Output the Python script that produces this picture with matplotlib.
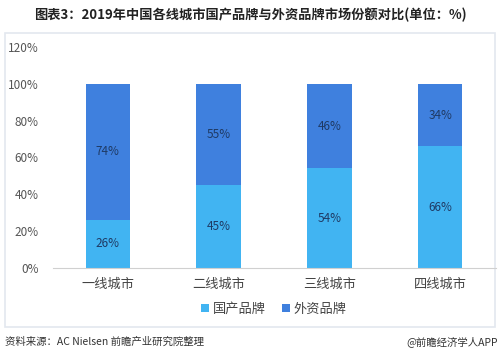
# 2019年各线城市国产品牌与外资品牌市场份额对比
import matplotlib.pyplot as plt
from matplotlib.patches import Rectangle

plt.rcParams['font.family'] = ['Noto Sans CJK SC', 'DejaVu Sans']

# 数据
cities = ['一线城市', '二线城市', '三线城市', '四线城市']
domestic = [26, 45, 54, 66]
foreign = [74, 55, 46, 34]
yticks = [0, 20, 40, 60, 80, 100, 120]

c_dom = '#41B4F2'
c_for = '#3F80DE'

fig = plt.figure(figsize=(5, 3.62), dpi=100)

# 外框
fig.patches.append(Rectangle((0.01, 0.097), 0.98, 0.812, transform=fig.transFigure,
                             facecolor='white', edgecolor='#E3E8EF', linewidth=1.2,
                             zorder=-1))

ax = fig.add_axes([0.105, 0.26, 0.886, 0.6105])
x = range(len(cities))
ax.bar(x, domestic, width=0.4, color=c_dom, label='国产品牌')
ax.bar(x, foreign, width=0.4, bottom=domestic, color=c_for, label='外资品牌')

for i in x:
    ax.text(i, domestic[i] / 2, f'{domestic[i]}%', ha='center', va='center',
            fontsize=8.5, color='#1F3A64')
    ax.text(i, domestic[i] + foreign[i] / 2, f'{foreign[i]}%', ha='center', va='center',
            fontsize=8.5, color='#1F3A64')

ax.set_xlim(-0.5, 3.5)
ax.set_ylim(0, 120)
ax.set_yticks(yticks)
ax.set_yticklabels([f'{v}%' for v in yticks], fontsize=8.5, color='#555555')
ax.set_xticks(list(x))
ax.set_xticklabels(cities, fontsize=9.5, color='#444444')
ax.tick_params(length=0, pad=7)
ax.tick_params(axis='y', pad=10)
for s in ['top', 'right', 'left']:
    ax.spines[s].set_visible(False)
ax.spines['bottom'].set_color('#D0D0D0')
ax.patch.set_alpha(0)

ax.legend(loc='upper center', bbox_to_anchor=(0.5, -0.105), ncol=2, frameon=False,
          fontsize=9.5, handlelength=0.6, handleheight=0.6, handletextpad=0.3,
          columnspacing=1.2, labelcolor='#444444')

fig.text(0.5, 0.96, '图表3：2019年中国各线城市国产品牌与外资品牌市场份额对比(单位：%)',
         ha='center', va='center', fontsize=9.5, fontweight='bold', color='#222222')
fig.text(0.01, 0.057, '资料来源：AC Nielsen 前瞻产业研究院整理', ha='left', va='center',
         fontsize=7.5, color='#333333')
fig.text(0.995, 0.057, '@前瞻经济学人APP', ha='right', va='center',
         fontsize=7.5, color='#333333')

fig.savefig('out.png', dpi=100)
